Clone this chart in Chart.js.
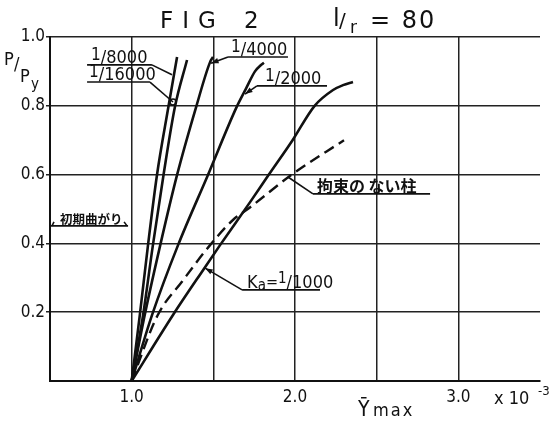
<!DOCTYPE html>
<html>
<head>
<meta charset="utf-8">
<script src="https://cdn.jsdelivr.net/npm/chart.js@4.4.1/dist/chart.umd.min.js"></script>
<style>
  html, body { margin: 0; padding: 0; background: #fff; }
  #wrap { width: 556px; height: 423px; position: relative; }
</style>
</head>
<body>
<div id="wrap"><canvas id="chart" width="556" height="423"></canvas></div>
<script>
// axis labels shown on the chart
const gammaTicks = [1.0, 2.0, 3.0];
const loadTicks = [0.2, 0.4, 0.6, 0.8, 1.0];

// initial crookedness Ka curves, x = gamma max (x10^-3), y = P/Py
const gamma16000 = [1.0, 1.05, 1.10, 1.155, 1.225, 1.278];
const load16000 = [0, 0.192, 0.395, 0.599, 0.797, 0.942];

const gamma8000 = [1.0, 1.07, 1.13, 1.195, 1.265, 1.339];
const load8000 = [0, 0.192, 0.395, 0.599, 0.797, 0.933];

const gamma4000 = [1.0, 1.08, 1.175, 1.278, 1.395, 1.48, 1.498];
const load4000 = [0, 0.192, 0.395, 0.599, 0.797, 0.927, 0.942];

const gamma2000 = [1.0, 1.125, 1.284, 1.467, 1.643, 1.70, 1.755, 1.79, 1.81];
const load2000 = [0, 0.192, 0.395, 0.599, 0.797, 0.85, 0.90, 0.918, 0.925];

const gamma1000 = [1.0, 1.253, 1.445, 1.541, 1.725, 1.84, 1.985, 2.12, 2.233, 2.294, 2.355];
const load1000 = [0, 0.192, 0.328, 0.395, 0.52, 0.60, 0.70, 0.80, 0.846, 0.86, 0.869];

// column without restraint (dashed)
const gammaFree = [1.0, 1.16, 1.31, 1.48, 1.62, 1.72, 1.98, 2.30];
const loadFree = [0, 0.192, 0.29, 0.395, 0.468, 0.503, 0.60, 0.70];

function toPoints(xs, ys) {
    return xs.map((x, i) => ({ x: x, y: ys[i] }));
}

// label notes: underline from x0 to x1 at y, leader to (px, py)
const notes = [
    { parts: [['1', 17, -3], ['/', 18, 0], ['8000', 18, 0]], x0: 0.727, x1: 1.124, y: 0.919, px: 1.247, py: 0.890, end: 'none', dx: 4 },
    { parts: [['1', 17, -3], ['/', 18, 0], ['16000', 18, 0]], x0: 0.727, x1: 1.112, y: 0.869, px: 1.253, py: 0.811, end: 'circle', dx: 2 },
    { parts: [['1', 17, -3], ['/', 18, 0], ['4000', 18, 0]], x0: 1.59, x1: 1.957, y: 0.942, px: 1.486, py: 0.924, end: 'arrow', dx: 3 },
    { parts: [['1', 17, -3], ['/', 18, 0], ['2000', 18, 0]], x0: 1.767, x1: 2.196, y: 0.858, px: 1.694, py: 0.834, end: 'arrow', dx: 8 },
    { parts: [['拘束の ない柱', 16, 0, 'bold', '"Noto Sans CJK JP"']], x0: 2.11, x1: 2.827, y: 0.544, px: 1.957, py: 0.593, end: 'none', dx: 4 },
    { parts: [['K', 18, 0], ['a', 15, 2], ['=', 16, -1], ['1', 15, -5], ['/', 18, 0], ['1000', 18, 0]], x0: 1.676, x1: 2.153, y: 0.265, px: 1.45, py: 0.328, end: 'arrow', dx: 5 },
    { parts: [['初期曲がり', 12.5, 0, 'bold', '"Noto Sans CJK JP"']], x0: 0.5, x1: 0.978, y: 0.451, end: 'hooks', dx: 10 }
];

const baseFont = '"DejaVu Sans Condensed", "Liberation Sans Narrow", "DejaVu Sans", sans-serif';

function drawParts(ctx, parts, x, y) {
    parts.forEach(p => {
        const weight = p[3] || 'normal';
        const family = p[4] || baseFont;
        ctx.font = weight + ' ' + p[1] + 'px ' + family;
        ctx.fillText(p[0], x, y + p[2]);
        x += ctx.measureText(p[0]).width;
    });
    return x;
}

const notesPlugin = {
    id: 'notes',
    afterDatasetsDraw(chart) {
        const ctx = chart.ctx;
        const xs = chart.scales.x, ys = chart.scales.y;
        ctx.save();
        ctx.strokeStyle = '#111';
        ctx.fillStyle = '#111';
        ctx.lineWidth = 1.6;
        ctx.textBaseline = 'alphabetic';
        ctx.textAlign = 'left';
        notes.forEach(n => {
            const x0 = xs.getPixelForValue(n.x0);
            const x1 = xs.getPixelForValue(n.x1);
            const y = ys.getPixelForValue(n.y);
            ctx.beginPath();
            ctx.moveTo(x0, y);
            ctx.lineTo(x1, y);
            ctx.stroke();
            if (n.px !== undefined) {
                const px = xs.getPixelForValue(n.px);
                const py = ys.getPixelForValue(n.py);
                const sx = px > x1 ? x1 : x0;
                ctx.beginPath();
                ctx.moveTo(sx, y);
                ctx.lineTo(px, py);
                ctx.stroke();
                if (n.end === 'arrow') {
                    const a = Math.atan2(py - y, px - sx);
                    ctx.beginPath();
                    ctx.moveTo(px, py);
                    ctx.lineTo(px - 8 * Math.cos(a - 0.35), py - 8 * Math.sin(a - 0.35));
                    ctx.lineTo(px - 8 * Math.cos(a + 0.35), py - 8 * Math.sin(a + 0.35));
                    ctx.closePath();
                    ctx.fill();
                } else if (n.end === 'circle') {
                    ctx.beginPath();
                    ctx.arc(px, py, 3, 0, Math.PI * 2);
                    ctx.stroke();
                }
            } else if (n.end === 'hooks') {
                ctx.beginPath();
                ctx.moveTo(x0 + 2, y); ctx.lineTo(x0 + 4, y - 4);
                ctx.moveTo(x1 - 1, y); ctx.lineTo(x1 - 4, y - 4);
                ctx.stroke();
            }
            drawParts(ctx, n.parts, x0 + n.dx, y - 2);
        });

        // title
        ctx.font = '23px "DejaVu Sans", sans-serif';
        ctx.letterSpacing = '9px';
        ctx.fillText('FIG', 160, 28);
        ctx.letterSpacing = '0px';
        ctx.fillText('2', 244, 28);
        ctx.font = '24px "DejaVu Sans", sans-serif';
        ctx.fillText('l', 333, 26);
        ctx.font = '20px "DejaVu Sans", sans-serif';
        ctx.fillText('/', 339, 27);
        ctx.font = '17px "DejaVu Sans", sans-serif';
        ctx.fillText('r', 350, 33);
        ctx.font = '24px "DejaVu Sans", sans-serif';
        ctx.letterSpacing = '2px';
        ctx.fillText('= 80', 370, 28);
        ctx.letterSpacing = '0px';

        // y axis title P/Py
        ctx.font = '18px ' + baseFont;
        ctx.fillText('P', 4, 65);
        ctx.fillText('/', 14, 70);
        ctx.fillText('P', 20, 82);
        ctx.font = '15px ' + baseFont;
        ctx.fillText('y', 31, 89);

        // x axis title and multiplier
        ctx.font = '21px ' + baseFont;
        ctx.fillText('Ȳ', 358, 416);
        ctx.font = '18px ' + baseFont;
        ctx.letterSpacing = '2px';
        ctx.fillText('max', 373, 416);
        ctx.letterSpacing = '0px';
        ctx.font = '18px ' + baseFont;
        ctx.fillText('x 10', 494, 404);
        ctx.font = '13px ' + baseFont;
        ctx.fillText('-3', 538, 395);
        ctx.restore();
    }
};

const lineStyle = { borderColor: '#111', borderWidth: 2.6, pointRadius: 0, showLine: true, fill: false, cubicInterpolationMode: 'monotone' };

new Chart(document.getElementById('chart'), {
    type: 'scatter',
    data: {
        datasets: [
            Object.assign({ label: '1/16000', data: toPoints(gamma16000, load16000) }, lineStyle),
            Object.assign({ label: '1/8000', data: toPoints(gamma8000, load8000) }, lineStyle),
            Object.assign({ label: '1/4000', data: toPoints(gamma4000, load4000) }, lineStyle),
            Object.assign({ label: '1/2000', data: toPoints(gamma2000, load2000) }, lineStyle),
            Object.assign({ label: '1/1000', data: toPoints(gamma1000, load1000) }, lineStyle),
            Object.assign({ label: '拘束のない柱', data: toPoints(gammaFree, loadFree) }, lineStyle, { borderDash: [11, 6], borderWidth: 2.4 })
        ]
    },
    options: {
        responsive: false,
        animation: false,
        events: [],
        layout: { padding: { top: 37, right: 16, left: 0, bottom: 0 } },
        plugins: { legend: { display: false }, tooltip: { enabled: false } },
        scales: {
            x: {
                type: 'linear',
                min: 0.5,
                max: 3.5,
                afterFit: scale => { scale.height = 42; },
                ticks: {
                    stepSize: 0.5,
                    autoSkip: false,
                    maxRotation: 0,
                    padding: 6,
                    color: '#111',
                    font: { family: baseFont, size: 17 },
                    callback: v => gammaTicks.some(t => Math.abs(t - v) < 1e-6) ? v.toFixed(1) : ''
                },
                grid: {
                    drawTicks: false,
                    lineWidth: 1.5,
                    color: c => (c.tick && c.tick.value >= 3.49) ? 'rgba(0,0,0,0)' : '#222'
                },
                border: { color: '#111', width: 2 }
            },
            y: {
                type: 'linear',
                min: 0,
                max: 1.0,
                afterFit: scale => { scale.width = 50; },
                ticks: {
                    stepSize: 0.2,
                    padding: 1,
                    color: '#111',
                    font: { family: baseFont, size: 17 },
                    callback: v => loadTicks.some(t => Math.abs(t - v) < 1e-6) ? v.toFixed(1) : ''
                },
                grid: {
                    drawTicks: true,
                    tickLength: 4,
                    lineWidth: 1.5,
                    color: c => (c.tick && c.tick.value === 0) ? 'rgba(0,0,0,0)' : '#222'
                },
                border: { color: '#111', width: 2 }
            }
        }
    },
    plugins: [notesPlugin]
});
</script>
</body>
</html>
